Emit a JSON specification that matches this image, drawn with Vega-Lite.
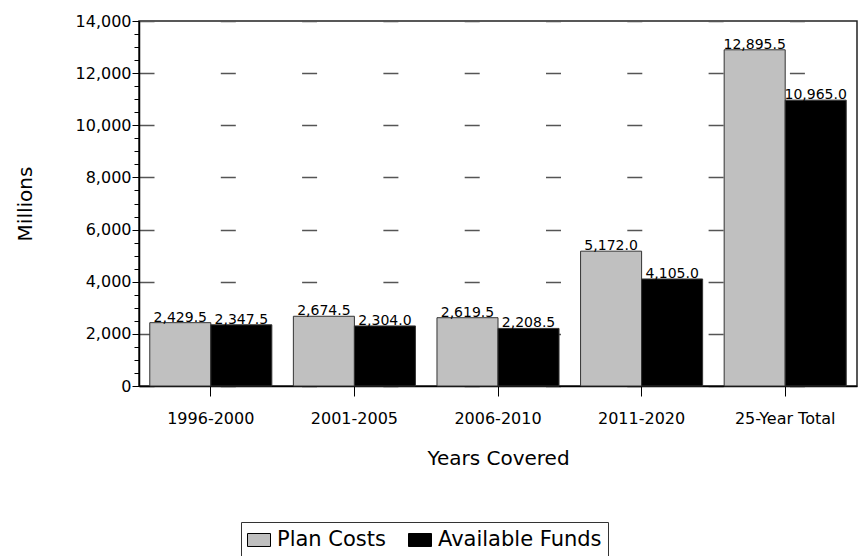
{
  "$schema": "https://vega.github.io/schema/vega-lite/v6.json",
  "width": 718,
  "height": 365,
  "autosize": {"type": "none"},
  "padding": {"left": 139, "top": 21, "right": 8, "bottom": 170},
  "background": "white",
  "config": {
    "font": "DejaVu Sans",
    "view": {"stroke": "#222", "strokeWidth": 1.5},
    "axis": {
      "labelColor": "black",
      "titleColor": "black",
      "domainColor": "black",
      "tickColor": "black",
      "labelFont": "DejaVu Sans",
      "titleFont": "DejaVu Sans",
      "titleFontWeight": "normal"
    }
  },
  "data": {
    "values": [
      {"period": "1996-2000", "series": "Plan Costs", "value": 2429.5},
      {"period": "1996-2000", "series": "Available Funds", "value": 2347.5},
      {"period": "2001-2005", "series": "Plan Costs", "value": 2674.5},
      {"period": "2001-2005", "series": "Available Funds", "value": 2304.0},
      {"period": "2006-2010", "series": "Plan Costs", "value": 2619.5},
      {"period": "2006-2010", "series": "Available Funds", "value": 2208.5},
      {"period": "2011-2020", "series": "Plan Costs", "value": 5172.0},
      {"period": "2011-2020", "series": "Available Funds", "value": 4105.0},
      {"period": "25-Year Total", "series": "Plan Costs", "value": 12895.5},
      {"period": "25-Year Total", "series": "Available Funds", "value": 10965.0}
    ]
  },
  "encoding": {
    "x": {
      "field": "period",
      "type": "nominal",
      "sort": ["1996-2000", "2001-2005", "2006-2010", "2011-2020", "25-Year Total"],
      "scale": {"paddingInner": 0.15, "paddingOuter": 0.075},
      "axis": {
        "title": "Years Covered",
        "titleFontSize": 20,
        "titlePadding": 22,
        "labelFontSize": 16,
        "labelAngle": 0,
        "tickSize": 10,
        "labelPadding": 14,
        "domainWidth": 1.5
      }
    },
    "xOffset": {"field": "series", "sort": ["Plan Costs", "Available Funds"]},
    "y": {
      "field": "value",
      "type": "quantitative",
      "scale": {"domain": [0, 14000]},
      "axis": {
        "title": "Millions",
        "titleFontSize": 20,
        "titlePadding": 40,
        "values": [0, 500, 1000, 1500, 2000, 2500, 3000, 3500, 4000, 4500, 5000, 5500, 6000, 6500, 7000, 7500, 8000, 8500, 9000, 9500, 10000, 10500, 11000, 11500, 12000, 12500, 13000, 13500, 14000],
        "format": ",d",
        "labelExpr": "datum.value % 2000 === 0 ? datum.label : ''",
        "labelOverlap": false,
        "labelFontSize": 16,
        "labelPadding": 1,
        "tickSize": {"condition": {"test": "datum.value % 2000 === 0", "value": 7}, "value": 5},
        "grid": true,
        "gridColor": "#555",
        "gridWidth": 1.5,
        "gridDash": [15, 66.3],
        "gridOpacity": {"condition": {"test": "datum.value % 2000 === 0", "value": 1}, "value": 0},
        "domainWidth": 1.5
      }
    }
  },
  "layer": [
    {
      "mark": {"type": "bar", "stroke": "#333", "strokeWidth": 1},
      "encoding": {
        "fill": {
          "field": "series",
          "type": "nominal",
          "scale": {"domain": ["Plan Costs", "Available Funds"], "range": ["#C0C0C0", "#000000"]},
          "legend": {
            "title": null,
            "orient": "none",
            "legendX": 102,
            "legendY": 501,
            "direction": "horizontal",
            "strokeColor": "#333",
            "padding": 6,
            "labelFontSize": 21,
            "labelFont": "DejaVu Sans",
            "labelColor": "black",
            "labelLimit": 300,
            "labelOffset": 6,
            "columnPadding": 20,
            "symbolType": "M-1,-0.565H1V0.565H-1Z",
            "symbolSize": 529,
            "symbolStrokeColor": "black",
            "symbolStrokeWidth": 1
          }
        }
      }
    },
    {
      "mark": {"type": "text", "baseline": "alphabetic", "dy": -1, "fontSize": 14, "color": "black"},
      "encoding": {
        "text": {"field": "value", "type": "quantitative", "format": ",.1f"}
      }
    }
  ]
}
